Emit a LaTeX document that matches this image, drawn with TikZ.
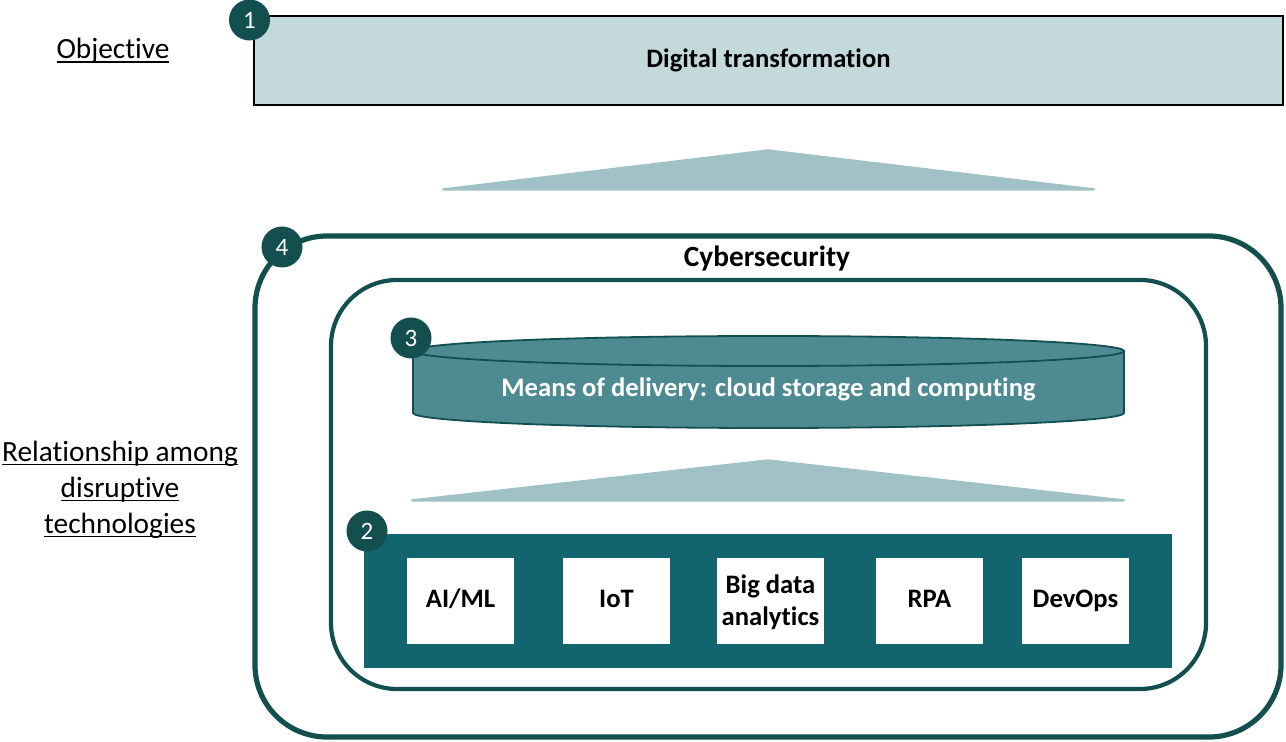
\documentclass[tikz,border=0pt]{standalone}
\usepackage{fontspec}
\setmainfont{Carlito}[Ligatures=NoCommon]
\usetikzlibrary{positioning,calc}
\definecolor{layteal}{HTML}{134F4F}
\definecolor{laybar}{HTML}{12646E}
\definecolor{laycyl}{HTML}{4E8A91}
\definecolor{laywedge}{HTML}{A0C1C5}
\definecolor{laygoal}{HTML}{C3D9DC}
% underline at a fixed depth, through the descenders
\newcommand{\undertext}[1]{\setbox0=\hbox{#1}\rlap{\rule[-1.9pt]{\wd0}{0.7pt}}\box0}
\tikzset{
  font=\fontsize{14.67}{18}\selectfont,
  goal/.style={draw=black,line width=1.1pt,fill=laygoal,minimum width=514.5pt,
               minimum height=44.5pt,inner sep=0pt},
  wedge/.style={fill=laywedge,draw=laywedge,line width=1.2pt,line join=round},
  shell/.style={draw=layteal,rounded corners=36pt,inner sep=0pt},
  badge/.style={circle,fill=layteal,text=white,minimum size=20.5pt,inner sep=0pt,
                font=\fontsize{12.5}{13}\selectfont},
  cyl/.style={fill=laycyl,draw=layteal,line width=0.9pt},
  layerbar/.style={fill=laybar,minimum width=404pt,minimum height=67pt,inner sep=0pt},
  techbox/.style={fill=white,minimum width=53.5pt,minimum height=43pt,inner sep=0pt,
                  align=center,text height=0.66em,text depth=0pt,
                  font=\fontsize{13.33}{16}\selectfont\bfseries},
  heading/.style={font=\fontsize{14.67}{18}\selectfont\bfseries},
  subheading/.style={font=\fontsize{13.33}{16}\selectfont\bfseries},
  lefttag/.style={align=center,inner sep=0pt},
}
\begin{document}
\begin{tikzpicture}[x=0.5pt,y=-0.5pt]
  \useasboundingbox (0,0) rectangle (1286,742);

  % objective on top
  \node[goal] (goal) at (768.5,60.5) {};
  \node[subheading,anchor=base] (goaltext) at (768.5,68) {Digital transformation};
  \node[lefttag,anchor=base] (objective) at (113,59) {\undertext{Objective}};
  \fill[wedge] (443,189.5) -- (768,150.5) -- (1094,189.5) -- cycle;

  % cybersecurity shell and the platform inside it
  \node[shell,line width=2.6pt,minimum width=513pt,minimum height=250.5pt] (security) at (768,486.5) {};
  \node[heading,anchor=base] (cyber) at (767,267) {Cybersecurity};
  \node[shell,line width=2.1pt,rounded corners=33pt,minimum width=437.5pt,minimum height=204.5pt] (platform) at (768.5,484.5) {};
  \node[lefttag] (relation) at (120,490)
    {\undertext{Relationship among}\\\undertext{disruptive}\\\undertext{technologies}};

  % cloud cylinder
  \fill[laycyl] (413,351) -- (413,413) arc[start angle=180,end angle=0,x radius=355.5,y radius=15] -- (1124,351) -- cycle;
  \draw[cyl,fill=none] (413,351) -- (413,413) arc[start angle=180,end angle=0,x radius=355.5,y radius=15] -- (1124,351);
  \draw[cyl] (768.5,351) ellipse[x radius=355.5,y radius=15];
  \node[subheading,text=white,anchor=base] (cloud) at (768.5,397)
    {Means of delivery: cloud storage and computing};
  \fill[wedge] (412,500.5) -- (768,460.5) -- (1124,500.5) -- cycle;

  % disruptive technologies
  \node[layerbar] (techs) at (768,601) {};
  \foreach \x/\n/\t in {460.5/ai/{AI/ML}, 616.5/iot/IoT, 929.5/rpa/RPA, 1075.5/devops/DevOps}
    \node[techbox] (\n) at (\x,601) {\t};
  \node[techbox,text height=25pt] (bigdata) at (770.5,601) {Big data\\analytics};

  % numbered markers
  \node[badge] (one)   at (249.5,20) {1};
  \node[badge] (two)   at (367,531) {2};
  \node[badge] (three) at (411,338) {3};
  \node[badge] (four)  at (282,247) {4};
\end{tikzpicture}
\end{document}
